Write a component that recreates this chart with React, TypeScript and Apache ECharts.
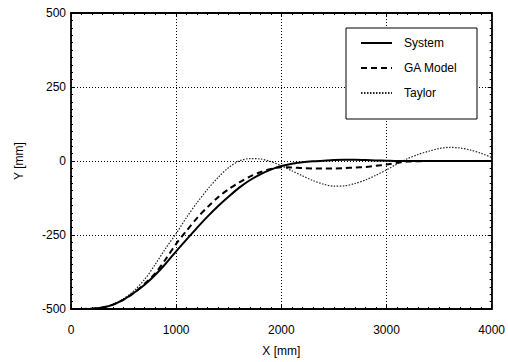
import React, { useEffect, useRef } from "react";
import * as echarts from "echarts";

const xs = [0, 200, 300, 400, 500, 600, 700, 800, 900, 1000, 1100, 1200, 1300, 1400, 1500, 1600, 1700, 1800, 1900, 2000, 2100, 2200, 2300, 2400, 2500, 2600, 2700, 2800, 2900, 3000, 3100, 3200, 3300, 3400, 3500, 3600, 3700, 3800, 3900, 4000];

const systemY = [-500, -499, -495, -485, -468, -445, -418, -385, -347, -305, -265, -225, -187, -152, -120, -90, -65, -45, -29, -17, -9, -4, -1, 1, 3, 4, 4, 3, 2, 1, 0, 0, 0, 0, 0, 0, 0, 0, 0, 0];

const gaY = [-500, -499, -495, -485, -468, -445, -415, -380, -332, -280, -235, -192, -155, -122, -95, -72, -53, -38, -27, -21, -22, -24, -25, -25, -25, -24, -22, -20, -16, -12, -6, -2, -1, 0, 0, 0, 0, 0, 0, 0];

const taylorY = [-500, -499, -495, -484, -465, -438, -400, -350, -295, -245, -190, -140, -95, -55, -22, 0, 8, 7, -2, -16, -33, -50, -66, -78, -85, -84, -76, -64, -48, -30, -10, 8, 22, 33, 42, 46, 44, 37, 26, 12];

const xTicks = [0, 1000, 2000, 3000, 4000];
const yTicks = [-500, -250, 0, 250, 500];

const seriesNames = ["System", "GA Model", "Taylor"];

const pair = (ys: number[]) => xs.map((x, i) => [x, ys[i]]);

export default function App() {
  const ref = useRef<HTMLDivElement>(null);
  useEffect(() => {
    if (!ref.current) return;
    const chart = echarts.init(ref.current, undefined, { renderer: "svg" });
    const font = "Liberation Sans, Arial, sans-serif";
    const axisCommon = {
      axisLine: { show: true, onZero: false, lineStyle: { color: "#000", width: 1.8 } },
      axisTick: { show: true, inside: true, length: 4, lineStyle: { color: "#000" } },
      minorTick: { show: true, splitNumber: 10, length: 2, lineStyle: { color: "#000" } },
    };
    chart.setOption({
      animation: false,
      backgroundColor: "#fff",
      grid: { left: 71, top: 13, right: 8, bottom: 53 },
      graphic: [
        {
          type: "rect",
          shape: { x: 346, y: 28, width: 131, height: 91 },
          style: { fill: "#fff", stroke: "#000", lineWidth: 1 },
          z: 10,
        },
      ],
      legend: {
        orient: "vertical",
        left: 360,
        top: 37,
        padding: 0,
        itemWidth: 31,
        itemHeight: 14,
        itemGap: 13,
        z: 11,
        itemStyle: { opacity: 0 },
        textStyle: { fontFamily: font, fontSize: 12, color: "#000", padding: [0, 0, 0, 7] },
        data: seriesNames,
      },
      xAxis: [
        {
          type: "value",
          min: 0,
          max: 4000,
          interval: 1000,
          name: "X [mm]",
          nameLocation: "middle",
          nameGap: 36,
          nameTextStyle: { fontFamily: font, fontSize: 12, color: "#000" },
          axisLabel: {
            fontFamily: font,
            fontSize: 12,
            color: "#000",
            margin: 15,
            customValues: xTicks,
            formatter: (v: number) => String(v),
          },
          splitLine: { show: true, lineStyle: { color: "#000", type: [1, 2], width: 1 } },
          ...axisCommon,
        },
        {
          type: "value",
          position: "top",
          min: 0,
          max: 4000,
          interval: 1000,
          axisLabel: { show: false },
          splitLine: { show: false },
          ...axisCommon,
        },
      ],
      yAxis: [
        {
          type: "value",
          min: -500,
          max: 500,
          interval: 250,
          name: "Y [mm]",
          nameLocation: "middle",
          nameGap: 46,
          nameTextStyle: { fontFamily: font, fontSize: 12, color: "#000" },
          axisLabel: {
            fontFamily: font,
            fontSize: 12,
            color: "#000",
            margin: 5,
            customValues: yTicks,
            formatter: (v: number) => String(v),
          },
          splitLine: { show: true, lineStyle: { color: "#000", type: [1, 2], width: 1 } },
          ...axisCommon,
        },
        {
          type: "value",
          position: "right",
          min: -500,
          max: 500,
          interval: 250,
          axisLabel: { show: false },
          splitLine: { show: false },
          ...axisCommon,
        },
      ],
      series: [
        {
          name: seriesNames[0],
          type: "line",
          data: pair(systemY),
          smooth: 0.3,
          symbol: "none",
          lineStyle: { color: "#000", width: 2 },
          itemStyle: { color: "#000" },
          z: 5,
        },
        {
          name: seriesNames[1],
          type: "line",
          data: pair(gaY),
          smooth: 0.3,
          symbol: "none",
          lineStyle: { color: "#000", width: 2, type: [6, 4] },
          itemStyle: { color: "#000" },
          z: 4,
        },
        {
          name: seriesNames[2],
          type: "line",
          data: pair(taylorY),
          smooth: 0.3,
          symbol: "none",
          lineStyle: { color: "#222", width: 1.2, type: [1.5, 1.5] },
          itemStyle: { color: "#222" },
          z: 3,
        },
      ],
    });
    return () => chart.dispose();
  }, []);
  return <div ref={ref} style={{ width: 508, height: 362, position: "absolute", left: 0, top: 0 }} />;
}
